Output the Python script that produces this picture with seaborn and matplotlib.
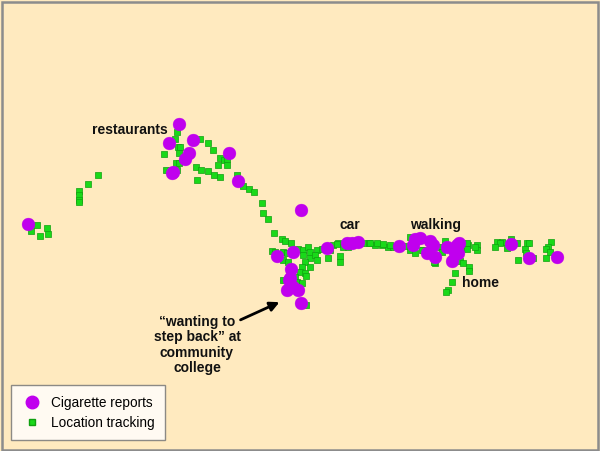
import matplotlib
matplotlib.use("Agg")
import matplotlib.pyplot as plt
import seaborn as sns
import pandas as pd
from matplotlib.lines import Line2D
from matplotlib.patches import Rectangle

# Cigarette report locations (image-pixel coordinates, y downwards)
cig_x = [179, 169, 193, 189, 185, 173, 172, 229, 238, 28, 301,
         277, 293, 291, 289, 287, 298, 301, 290, 293, 327, 347, 352, 358,
         399, 415, 420, 413, 430, 433, 427, 435, 447, 457, 459, 455, 458, 452,
         511, 529, 557]
cig_y = [124, 143, 140, 153, 159, 172, 173, 153, 181, 224, 210,
         256, 252, 269, 280, 290, 290, 303, 278, 287, 248, 243, 243, 242,
         246, 239, 238, 245, 241, 245, 253, 257, 247, 245, 243, 253, 253, 261,
         244, 258, 257]

# Location tracking points
loc_x = [177, 175, 200, 208, 213, 164, 178, 180, 179, 176, 179, 166, 177, 196, 201,
         208, 214, 220, 197, 220, 224, 227, 218, 227, 237, 243, 249, 254, 262,
         98, 88, 79, 79, 79, 79, 37, 47, 31, 40, 48,
         263, 268, 274, 282, 285, 291,
         272, 275, 283, 287, 298, 303, 308, 310, 317, 322, 333, 338,
         283, 288, 303, 310, 315, 305, 317, 302, 310, 328, 340, 340,
         300, 305, 295, 306, 283, 297, 302, 306, 330,
         337, 343, 348, 363, 369, 375, 382, 388, 393, 370, 377, 383, 390,
         407, 410, 415, 423, 410, 422, 440, 435, 445, 442,
         463, 468, 477, 477, 467, 475, 467, 434, 460, 463, 469, 469, 455, 452, 448, 446,
         497, 502, 500, 495, 507, 511, 517, 518, 527, 529, 525, 526, 533,
         551, 548, 546, 550, 546]
loc_y = [132, 139, 139, 143, 150, 154, 147, 147, 153, 163, 163, 170, 170, 167, 170,
         171, 175, 177, 180, 158, 160, 159, 165, 165, 175, 186, 189, 192, 203,
         175, 184, 191, 195, 200, 202, 225, 228, 231, 236, 234,
         213, 219, 233, 239, 241, 243,
         251, 252, 252, 253, 249, 250, 247, 252, 250, 249, 245, 243,
         260, 262, 255, 258, 255, 262, 260, 267, 267, 258, 256, 262,
         272, 273, 277, 276, 280, 282, 283, 305, 250,
         244, 247, 247, 243, 243, 245, 245, 247, 247, 243, 243, 244, 245,
         246, 250, 253, 250, 237, 250, 247, 263, 241, 252,
         248, 245, 245, 250, 243, 247, 249, 262, 261, 263, 267, 271, 273, 282, 290, 292,
         242, 242, 243, 247, 248, 239, 243, 260, 243, 243, 249, 253, 258,
         242, 247, 249, 252, 258]

labels = ["Cigarette reports", "Location tracking"]

bg = "#FFEABF"
purple = "#C000EE"
green = "#19D919"

df_loc = pd.DataFrame({"x": loc_x, "y": loc_y})
df_cig = pd.DataFrame({"x": cig_x, "y": cig_y})

plt.rcParams['font.family'] = ['Liberation Sans', 'DejaVu Sans']
fig = plt.figure(figsize=(6, 4.51), dpi=100)
fig.patch.set_facecolor(bg)
ax = fig.add_axes([0, 0, 1, 1])
ax.set_facecolor(bg)

sns.scatterplot(data=df_loc, x="x", y="y", marker="s", s=20, color=green,
                edgecolor="#10A010", linewidth=0.5, ax=ax, zorder=2)
sns.scatterplot(data=df_cig, x="x", y="y", marker="o", s=85, color=purple,
                edgecolor=purple, linewidth=0.3, ax=ax, zorder=3)

ax.set_xlim(0, 600)
ax.set_ylim(451, 0)
ax.set_axis_off()

# frame
fig.patches.append(Rectangle((0.003, 0.003), 0.993, 0.992, transform=fig.transFigure,
                             fill=False, edgecolor="#8C8C8C", linewidth=1.8))

kw = dict(fontsize=10, fontweight="bold", color="#111111")
ax.text(92, 130, "restaurants", ha="left", va="center", **kw)
ax.text(350, 225, "car", ha="center", va="center", **kw)
ax.text(436, 225, "walking", ha="center", va="center", **kw)
ax.text(462, 283, "home", ha="left", va="center", **kw)
ax.text(197, 345, "\u201cwanting to\nstep back\u201d at\ncommunity\ncollege",
        ha="center", va="center", linespacing=1.12, **kw)
ax.annotate("", xy=(282, 301), xytext=(238, 321),
            arrowprops=dict(arrowstyle="-|>", color="black", lw=2,
                            mutation_scale=14))

handles = [Line2D([], [], marker="o", linestyle="", markersize=9,
                  markerfacecolor=purple, markeredgecolor=purple),
           Line2D([], [], marker="s", linestyle="", markersize=4.5,
                  markerfacecolor=green, markeredgecolor="#10A010")]
leg = ax.legend(handles, labels, loc="lower left", bbox_to_anchor=(11 / 600, 11 / 451),
                borderaxespad=0, frameon=True, fancybox=False, fontsize=9.8,
                handletextpad=0.6, borderpad=0.75, labelspacing=0.45, handlelength=1.6)
leg.get_frame().set_edgecolor("#707070")
leg.get_frame().set_linewidth(1.0)
leg.get_frame().set_facecolor("white")

fig.savefig("out.png", dpi=100, facecolor=bg)
